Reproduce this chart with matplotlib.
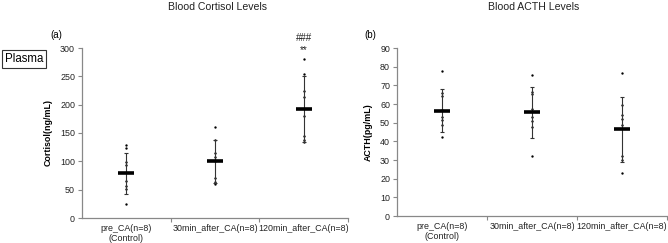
import numpy as np
import matplotlib
matplotlib.use("Agg")
import matplotlib.pyplot as plt

plt.rcParams['font.family'] = ['Liberation Sans', 'DejaVu Sans']

# Categories shared by both panels
groups = ['pre_CA(n=8)\n(Control)', '30min_after_CA(n=8)', '120min_after_CA(n=8)']

# Blood cortisol (ng/mL), individual animals
cortisol_pre = [128, 123, 99, 94, 66, 57, 52, 24]
cortisol_30 = [160, 137, 114, 108, 101, 70, 63, 60]
cortisol_120 = [281, 254, 224, 214, 180, 145, 138, 135]
cortisol_mean = [79, 100, 193]
cortisol_sd = [36, 38, 58]

# Blood ACTH (pg/mL), individual animals
acth_pre = [77.5, 66, 64.5, 57, 53, 51.5, 49, 42.5]
acth_30 = [75.5, 66.5, 65.5, 57.5, 53, 51, 47.5, 32]
acth_120 = [76.5, 59.5, 54, 52, 49, 32, 30, 23]
acth_mean = [56.5, 55.5, 46.5]
acth_sd = [11.5, 13.5, 17.5]

W, H = 668, 243


def draw_panel(ax, pts, means, sds, ymax, ystep, ylabel):
    x = np.arange(1, len(groups) + 1)
    for xi, vals in zip(x, pts):
        ax.plot([xi] * len(vals), vals, 'o', color='black', ms=1.7, mew=0)
    ax.errorbar(x, means, yerr=sds, fmt='none', ecolor='#333333',
                elinewidth=0.8, capsize=1.5, capthick=0.8)
    ax.plot(x, means, '_', color='black', ms=11, mew=2.6)

    ax.set_xlim(0.5, 3.5)
    ax.set_ylim(0, ymax)
    ax.set_yticks(np.arange(0, ymax + 1, ystep))
    ax.set_xticks([1.5, 2.5, 3.5])
    ax.set_xticklabels([])
    ax.set_xticks(x, minor=True)
    ax.set_xticklabels(groups, minor=True, fontsize=6.4, color='#222222',
                       linespacing=1.15)
    ax.tick_params(axis='x', which='minor', length=0, pad=4)
    ax.tick_params(axis='x', which='major', length=3, width=0.8, color='#888888')
    ax.tick_params(axis='y', length=3, width=0.8, color='#888888',
                   labelsize=6.4, labelcolor='#222222', pad=2)
    for s in ['top', 'right']:
        ax.spines[s].set_visible(False)
    for s in ['left', 'bottom']:
        ax.spines[s].set_color('#888888')
        ax.spines[s].set_linewidth(0.9)
    ax.set_ylabel(ylabel, fontsize=6.4, fontweight='bold', labelpad=5)


fig = plt.figure(figsize=(W / 100, H / 100), dpi=100)
ax1 = fig.add_axes([82 / W, 1 - 218 / H, 266 / W, 170 / H])
ax2 = fig.add_axes([397 / W, 1 - 216 / H, 270 / W, 168 / H])

draw_panel(ax1, [cortisol_pre, cortisol_30, cortisol_120],
           cortisol_mean, cortisol_sd, 300, 50, 'Cortisol(ng/mL)')
draw_panel(ax2, [acth_pre, acth_30, acth_120],
           acth_mean, acth_sd, 90, 10, 'ACTH(pg/mL)')

# significance marks above the 120 min group
ax1.text(3, 296, '**', ha='center', va='center', fontsize=7, color='#222222')
ax1.text(3, 318, '###', ha='center', va='center', fontsize=7,
         color='#222222', clip_on=False)

fig.text(217 / W, 1 - 7 / H, 'Blood Cortisol Levels', ha='center', va='center',
         fontsize=7.6, color='#222222')
fig.text(534 / W, 1 - 7 / H, 'Blood ACTH Levels', ha='center', va='center',
         fontsize=7.6, color='#222222')
fig.text(56 / W, 1 - 35 / H, '(a)', ha='center', va='center', fontsize=7)
fig.text(370 / W, 1 - 35 / H, '(b)', ha='center', va='center', fontsize=7)
fig.text(5 / W, 1 - 59 / H, 'Plasma', ha='left', va='center', fontsize=8.3,
         bbox=dict(boxstyle='square,pad=0.25', fc='white', ec='#333333', lw=0.8))

fig.savefig('out.png', dpi=100)
